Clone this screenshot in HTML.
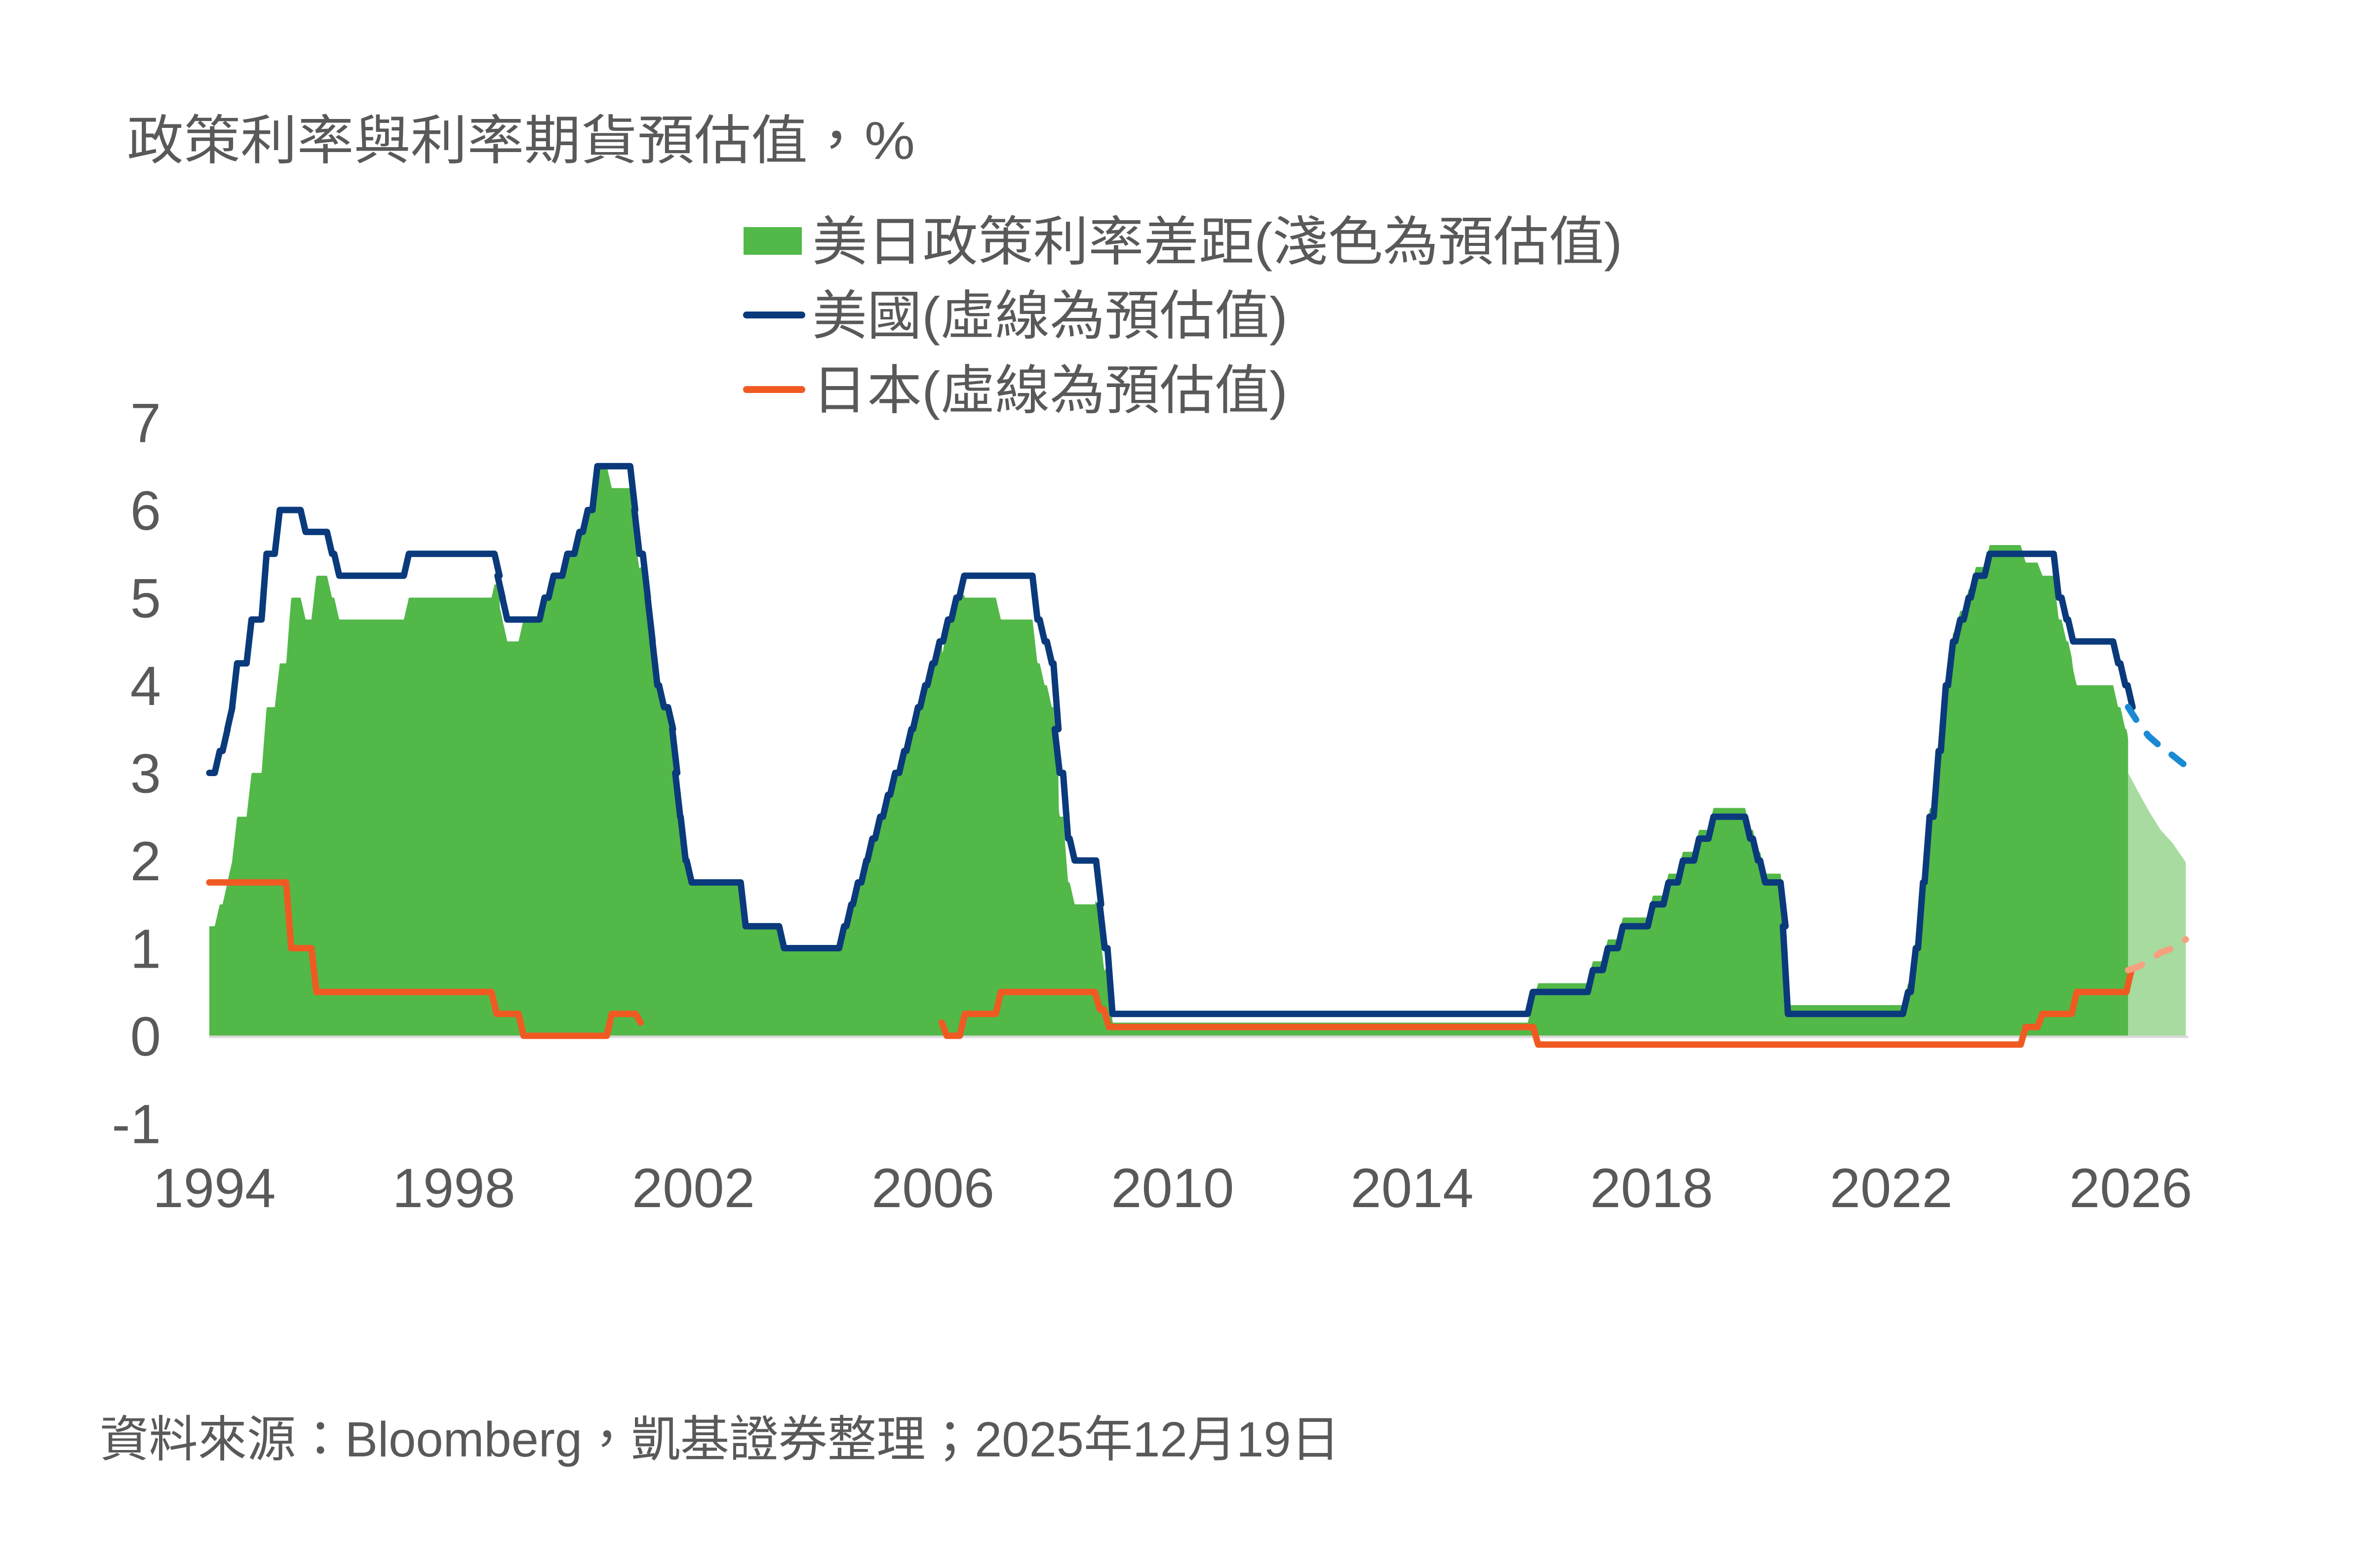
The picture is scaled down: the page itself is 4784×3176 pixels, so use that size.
<!DOCTYPE html>
<html><head><meta charset="utf-8"><style>
html,body{margin:0;padding:0;background:#fff;}
svg{display:block;}
text{font-family:"Liberation Sans","Noto Sans CJK TC",sans-serif;fill:#595959;}
</style></head><body>
<svg id="chart" width="4784" height="3176" viewBox="0 0 4784 3176" xmlns="http://www.w3.org/2000/svg">
<text x="257" y="322" font-size="108" textLength="1596" lengthAdjust="spacingAndGlyphs">政策利率與利率期貨預估值，%</text>
<g>
<rect x="1506" y="460" width="118" height="56" fill="#52b848"/>
<text x="1645" y="527" font-size="108" textLength="1641" lengthAdjust="spacingAndGlyphs">美日政策利率差距(淺色為預估值)</text>
<line x1="1512" y1="638" x2="1624" y2="638" stroke="#0a3a7c" stroke-width="14" stroke-linecap="round"/>
<text x="1645" y="677" font-size="108" textLength="963" lengthAdjust="spacingAndGlyphs">美國(虛線為預估值)</text>
<line x1="1512" y1="789" x2="1624" y2="789" stroke="#f05a22" stroke-width="14" stroke-linecap="round"/>
<text x="1645" y="828" font-size="108" textLength="963" lengthAdjust="spacingAndGlyphs">日本(虛線為預估值)</text>
</g>
<g id="plot"></g>
<text x="202" y="2950" font-size="100" textLength="2512" lengthAdjust="spacingAndGlyphs">資料來源：Bloomberg，凱基證券整理；2025年12月19日</text>
</svg>
<script>
const usDates=[1994.0,1994.09,1994.22,1994.3,1994.38,1994.62,1994.87,1995.09,1995.52,1995.96,1996.08,1997.24,1998.75,1998.8,1998.88,1999.5,1999.65,1999.88,2000.08,2000.22,2000.38,2001.01,2001.08,2001.22,2001.3,2001.38,2001.49,2001.64,2001.71,2001.76,2001.85,2001.95,2002.85,2003.49,2004.49,2004.61,2004.72,2004.86,2004.96,2005.09,2005.22,2005.34,2005.49,2005.61,2005.72,2005.84,2005.96,2006.08,2006.22,2006.36,2006.49,2007.71,2007.83,2007.95,2008.06,2008.08,2008.22,2008.33,2008.77,2008.83,2008.96,2015.96,2016.96,2017.21,2017.46,2017.96,2018.22,2018.46,2018.73,2018.97,2019.58,2019.71,2019.83,2020.17,2020.21,2022.21,2022.34,2022.46,2022.57,2022.72,2022.84,2022.96,2023.08,2023.22,2023.34,2023.57,2024.72,2024.85,2024.96,2025.71,2025.83,2025.95];
const usValues=[3.0,3.25,3.5,3.75,4.25,4.75,5.5,6.0,5.75,5.5,5.25,5.5,5.25,5.0,4.75,5.0,5.25,5.5,5.75,6.0,6.5,6.0,5.5,5.0,4.5,4.0,3.75,3.5,3.0,2.5,2.0,1.75,1.25,1.0,1.25,1.5,1.75,2.0,2.25,2.5,2.75,3.0,3.25,3.5,3.75,4.0,4.25,4.5,4.75,5.0,5.25,4.75,4.5,4.25,3.5,3.0,2.25,2.0,1.5,1.0,0.25,0.5,0.75,1.0,1.25,1.5,1.75,2.0,2.25,2.5,2.25,2.0,1.75,1.25,0.25,0.5,1.0,1.75,2.5,3.25,4.0,4.5,4.75,5.0,5.25,5.5,5.0,4.75,4.5,4.25,4.0,3.75];
const jpDates=[1994.0,1995.28,1995.7,1998.7,1999.15,2000.62,2001.1,2006.2,2006.5,2007.1,2008.75,2008.9,2016.05,2024.17,2024.45,2025.02,2025.93];
const jpValues=[1.75,1.0,0.5,0.25,0.0,0.25,0.15,0.0,0.25,0.5,0.3,0.1,-0.1,0.1,0.25,0.5,0.75];
const jpGapStart=2001.2, jpGapEnd=2006.2;
const seriesEnd=2025.96;
const fcDates=[2025.96,2026.1,2026.3,2026.5,2026.7,2026.92];
const fcUS=[3.75,3.6,3.42,3.3,3.2,3.08];
const fcJP=[0.75,0.78,0.85,0.95,1.0,1.1];
const yTicks=[7,6,5,4,3,2,1,0,-1];
const xTicks=[1994,1998,2002,2006,2010,2014,2018,2022,2026];

const NS='http://www.w3.org/2000/svg';
const X=t=>424+121.6*(t-1994);
const Y=v=>2098-177.5*v;
const plot=document.getElementById('plot');
function mk(tag,attrs,parent){const e=document.createElementNS(NS,tag);for(const k in attrs)e.setAttribute(k,attrs[k]);(parent||plot).appendChild(e);return e;}
function stepPts(d,v,end){const p=[[d[0],v[0]]];for(let i=1;i<d.length;i++){p.push([d[i],v[i-1]]);p.push([d[i]+1/12,v[i]]);}p.push([end,v[v.length-1]]);return p;}
function interp(p,t){if(t<=p[0][0])return p[0][1];for(let i=1;i<p.length;i++){if(t<=p[i][0]){const a=p[i-1],b=p[i];const f=b[0]===a[0]?1:(t-a[0])/(b[0]-a[0]);return a[1]+f*(b[1]-a[1]);}}return p[p.length-1][1];}
const usP=stepPts(usDates,usValues,seriesEnd);
const jpP=stepPts(jpDates,jpValues,seriesEnd);
const jpAt=t=>(t>jpGapStart&&t<jpGapEnd)?0:interp(jpP,t);
let d='M'+X(1994)+','+Y(0);
for(let t=1994;t<=seriesEnd+1e-9;t+=0.01){d+=' L'+X(t).toFixed(1)+','+Y(interp(usP,t)-jpAt(t)).toFixed(1);}
d+=' L'+X(seriesEnd)+','+Y(0)+' Z';
const area=mk('path',{d:d,fill:'#52b848'});


let df='M'+X(fcDates[0])+','+Y(0);
for(let i=0;i<fcDates.length;i++){df+=' L'+X(fcDates[i])+','+Y(fcUS[i]-fcJP[i]);}
df+=' L'+X(fcDates[fcDates.length-1])+','+Y(0)+' Z';
const areaF=mk('path',{d:df,fill:'#a8dba0'});


const ax=mk('line',{x1:423,y1:Y(0)+2,x2:4432,y2:Y(0)+2,stroke:'#d9d9d9','stroke-width':5});


const jpSeg1=jpP.filter(p=>p[0]<=jpGapStart);
const jpSeg2=jpP.filter(p=>p[0]>=jpGapEnd);
const toPath=pts=>pts.map((p,i)=>(i?'L':'M')+X(p[0]).toFixed(1)+','+Y(p[1]).toFixed(1)).join(' ');
const jpLine=mk('path',{d:toPath(jpSeg1)+' '+toPath(jpSeg2),fill:'none',stroke:'#f05a22','stroke-width':13,'stroke-linejoin':'round','stroke-linecap':'round'});


const usLine=mk('path',{d:toPath(usP),fill:'none',stroke:'#0a3a7c','stroke-width':13,'stroke-linejoin':'round','stroke-linecap':'round'});


const usF=mk('path',{d:toPath(fcDates.map((t,i)=>[t,fcUS[i]])),fill:'none',stroke:'#1a8ad4','stroke-width':13,'stroke-dasharray':'30 36','stroke-linecap':'round'});


const jpF=mk('path',{d:toPath(fcDates.map((t,i)=>[t,fcJP[i]])),fill:'none',stroke:'#f6a07e','stroke-width':13,'stroke-dasharray':'30 36','stroke-linecap':'round'});


yTicks.forEach(v=>{const t=mk('text',{x:326,y:Y(v)+40,'font-size':112,'text-anchor':'end'});t.textContent=String(v);

});
xTicks.forEach(v=>{const t=mk('text',{x:434+121.3*(v-1994),y:2445,'font-size':112,'text-anchor':'middle'});t.textContent=String(v);

});
</script>
</body></html>
